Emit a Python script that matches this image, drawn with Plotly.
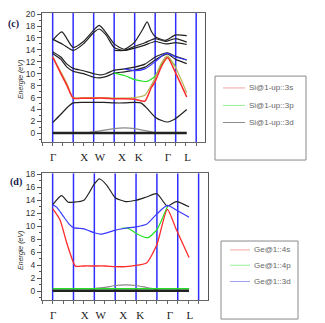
import plotly.graph_objects as go

# ---------------- data: Si (panel c) ----------------
si_top1_k = [0, 0.45, 1.0, 1.5, 2.0, 2.27, 2.6, 3.0, 3.5, 4.0, 4.4, 4.61, 4.8, 5.0, 5.5, 6.0, 6.54]
si_top1_e = [15.6, 17.0, 14.4, 15.4, 17.3, 18.1, 16.9, 15.0, 14.1, 15.3, 17.5, 18.7, 17.2, 16.2, 15.6, 16.5, 16.4]
si_top2_k = [0, 0.5, 1.0, 1.5, 2.0, 2.27, 2.6, 3.0, 3.5, 4.0, 4.5, 5.0, 5.5, 6.0, 6.54]
si_top2_e = [15.8, 14.9, 13.9, 15.0, 16.9, 17.5, 16.5, 14.4, 13.9, 14.6, 15.2, 15.9, 15.4, 15.9, 15.3]
si_top3_k = [3.0, 3.5, 4.0, 4.5, 5.0, 5.5, 6.0, 6.54]
si_top3_e = [13.9, 13.9, 14.3, 14.8, 15.4, 15.0, 15.2, 14.9]

si_mid_k = [0, 0.4, 0.7, 1.0, 1.5, 2.0, 2.3, 2.6, 3.0, 3.5, 4.0, 4.5, 5.0, 5.35, 5.6, 6.0, 6.54]
si_mid1_e = [13.7, 12.8, 11.6, 10.9, 10.5, 10.0, 9.8, 10.0, 10.6, 10.8, 11.1, 11.6, 12.8, 13.3, 13.5, 12.9, 12.3]
si_mid2_e = [13.4, 12.4, 11.1, 10.4, 10.0, 9.4, 9.3, 9.5, 10.1, 10.3, 10.6, 11.1, 12.3, 13.0, 13.3, 12.4, 11.7]

si_s_k = [0, 0.4, 0.7, 1.0, 1.5, 2.0, 2.5, 3.0, 3.5, 4.0, 4.5, 4.8, 5.0, 5.3, 5.6, 6.0, 6.54]
si_s_e = [12.8, 10.0, 8.0, 5.9, 5.9, 5.9, 5.9, 5.8, 5.8, 5.7, 5.4, 7.6, 8.7, 11.2, 12.7, 10.1, 6.1]
si_o_e = [12.9, 10.3, 8.3, 6.0, 6.0, 6.0, 6.0, 5.9, 5.9, 6.0, 6.4, 8.0, 9.3, 11.8, 13.0, 11.0, 6.8]

si_p_k = [3.0, 3.5, 4.0, 4.3, 4.6, 5.0, 5.3, 5.6, 6.0]
si_p_e = [10.1, 9.7, 9.0, 8.8, 8.7, 9.6, 11.5, 12.7, 11.2]
si_d_k = [3.5, 4.0, 4.5, 5.0, 5.45, 5.6, 6.0, 6.54]
si_d_e = [10.8, 10.5, 10.8, 12.0, 13.3, 13.4, 12.8, 12.3]

si_low_k = [0, 0.4, 0.7, 1.0, 1.5, 2.0, 2.5, 3.0, 3.5, 4.0, 4.3, 4.6, 5.0, 5.35, 5.6, 6.0, 6.54]
si_low_e = [1.8, 3.2, 4.3, 5.1, 5.2, 5.2, 5.2, 5.1, 5.1, 5.2, 5.1, 4.2, 2.7, 2.1, 1.9, 2.5, 4.0]
si_hump_k = [1.8, 2.3, 3.0, 3.5, 4.0, 4.6, 5.0]
si_hump_e = [0.15, 0.4, 0.8, 0.9, 0.8, 0.4, 0.1]
si_zero_k = [0, 6.54]
si_zero_e = [0.05, 0.05]

# ---------------- data: Ge (panel d) ----------------
ge_top_k = [0, 0.43, 0.75, 1.0, 1.5, 2.0, 2.24, 2.6, 3.0, 3.5, 4.0, 4.5, 5.0, 5.5, 5.93, 6.54]
ge_top_e = [13.3, 14.7, 13.7, 13.7, 14.0, 16.5, 17.3, 16.3, 14.4, 13.8, 14.0, 14.5, 15.0, 13.1, 13.8, 13.0]
ge_d_k = [0, 0.2, 0.5, 0.8, 1.0, 1.5, 2.0, 2.3, 2.6, 3.0, 3.5, 4.0, 4.5, 5.0, 5.5, 5.93, 6.54]
ge_d_e = [13.3, 12.9, 11.6, 10.3, 9.8, 9.6, 9.0, 8.8, 9.0, 9.4, 9.7, 9.9, 10.3, 11.9, 13.2, 12.5, 11.4]
ge_s_k = [0, 0.35, 0.67, 1.0, 1.1, 1.5, 2.0, 2.5, 3.0, 3.5, 4.0, 4.5, 5.0, 5.5, 5.93, 6.54]
ge_s_e = [12.7, 11.0, 7.5, 4.4, 3.85, 3.9, 3.9, 3.9, 3.8, 3.8, 4.0, 4.35, 7.2, 12.6, 9.5, 5.2]
ge_p_k = [3.3, 3.6, 4.1, 4.57, 5.0, 5.3, 5.5]
ge_p_e = [9.7, 9.7, 8.75, 8.25, 9.5, 11.5, 13.0]
ge_hump_k = [1.8, 2.5, 3.0, 3.5, 4.0, 4.5, 5.0]
ge_hump_e = [0.35, 0.6, 0.9, 1.0, 0.9, 0.6, 0.3]
ge_zero_k = [0, 6.54]
ge_zero_e = [0.1, 0.1]
ge_green0_e = [0.4, 0.4]

# ---------------- labels ----------------
sym_k = [0.02, 1.54, 2.3, 3.38, 4.2, 5.62, 6.58]
sym_labels = ["Γ", "X", "W", "X", "K", "Γ", "L"]
hs_lines = [0, 1, 2, 3, 4, 5, 6, 7]
legend_si = ["Si@1-up::3s", "Si@1-up::3p", "Si@1-up::3d"]
legend_ge = ["Ge@1::4s", "Ge@1::4p", "Ge@1::3d"]
legend_si_colors = ["#f4a4a4", "#98f098", "#8c8c8c"]
legend_ge_colors = ["#f4a4a4", "#98f098", "#a0a0f8"]

BLACK = "#222222"
RED = "#ff2a2a"
GREEN = "#22e022"
BLUE = "#3a3aff"
OLIVE = "#b8b055"
GRAY = "#8a8a8a"

W, H = 325, 323

fig = go.Figure()


def band(k, e, color, xa, ya, width=1.2):
    fig.add_trace(go.Scatter(x=k, y=e, mode="lines", xaxis=xa, yaxis=ya,
                             line=dict(color=color, width=width, shape="spline", smoothing=0.6),
                             showlegend=False, hoverinfo="skip"))


# Si panel
for k, e in [(si_top1_k, si_top1_e), (si_top2_k, si_top2_e), (si_top3_k, si_top3_e),
             (si_mid_k, si_mid1_e), (si_mid_k, si_mid2_e), (si_low_k, si_low_e)]:
    band(k, e, BLACK, "x", "y")
band(si_hump_k, si_hump_e, GRAY, "x", "y")
band(si_zero_k, si_zero_e, BLACK, "x", "y", 2.5)
band(si_p_k, si_p_e, GREEN, "x", "y")
band(si_d_k, si_d_e, BLUE, "x", "y")
band(si_s_k, si_o_e, OLIVE, "x", "y")
band(si_s_k, si_s_e, RED, "x", "y", 1.5)

# Ge panel
band(ge_top_k, ge_top_e, BLACK, "x2", "y2")
band(ge_hump_k, ge_hump_e, GRAY, "x2", "y2")
band(ge_zero_k, ge_green0_e, GREEN, "x2", "y2", 1.3)
band(ge_zero_k, ge_zero_e, BLACK, "x2", "y2", 2.5)
band(ge_p_k, ge_p_e, GREEN, "x2", "y2")
band(ge_d_k, ge_d_e, BLUE, "x2", "y2")
band(ge_s_k, ge_s_e, RED, "x2", "y2", 1.3)

shapes = []
for xr in ["x", "x2"]:
    yr = "y" if xr == "x" else "y2"
    for k in hs_lines:
        shapes.append(dict(type="line", xref=xr, yref=yr + " domain", x0=k, x1=k, y0=0, y1=1,
                           line=dict(color="#2e2eff", width=1.5), layer="below"))

legfont = dict(family="Liberation Sans, Arial, sans-serif", size=8, color="#666")
annotations = []


def legend_box(box, line_x, text_x, rows, names, colors):
    # box: (left, top, right, bottom) in pixels from top-left
    l, t, r, b = box
    shapes.append(dict(type="rect", xref="paper", yref="paper", x0=l / W, x1=r / W,
                       y0=1 - b / H, y1=1 - t / H, line=dict(color="#8a8a8a", width=1)))
    for py, name, col in zip(rows, names, colors):
        shapes.append(dict(type="line", xref="paper", yref="paper", x0=line_x[0] / W, x1=line_x[1] / W,
                           y0=1 - py / H, y1=1 - py / H, line=dict(color=col, width=1)))
        annotations.append(dict(text=name, xref="paper", yref="paper", x=text_x / W, y=1 - py / H,
                                xanchor="left", yanchor="middle", showarrow=False, font=legfont))


legend_box((215, 73, 306, 158), (223, 245), 247, [85, 102.7, 120], legend_si, legend_si_colors)
legend_box((221, 240, 298, 319), (230, 250), 252, [249, 264.5, 281], legend_ge, legend_ge_colors)

tickfont = dict(family="Liberation Sans Narrow, Liberation Sans, Arial, sans-serif", size=8.5, color="#333")
xfont = dict(family="Liberation Serif, DejaVu Serif, serif", size=11, color="#222")
titlefont = dict(family="Liberation Sans, Arial, sans-serif", size=7, color="#333", style="italic")


def xax(domain, rng, anchor):
    return dict(domain=domain, range=rng, anchor=anchor, showgrid=False, zeroline=False,
                showline=True, mirror=True, linecolor="#666", linewidth=1,
                tickmode="array", tickvals=sym_k, ticktext=sym_labels, ticks="",
                ticklabelstandoff=5, tickfont=xfont,
                minor=dict(ticks="outside", ticklen=3, tickcolor="#666",
                           tickmode="linear", tick0=0, dtick=0.5, showgrid=False))


def yax(domain, rng, anchor):
    return dict(domain=domain, range=rng, anchor=anchor, showgrid=False, zeroline=False,
                showline=True, mirror=True, linecolor="#555", linewidth=1,
                tick0=0, dtick=2, ticks="outside", ticklen=4, tickcolor="#555",
                tickfont=tickfont,
                minor=dict(ticks="outside", ticklen=2, tickcolor="#555", dtick=1, tick0=0, showgrid=False))


annotations += [
    dict(text="<b>(c)</b>", xref="paper", yref="paper", x=13 / W, y=1 - 20 / H, showarrow=False,
         xanchor="center", yanchor="middle",
         font=dict(family="Liberation Serif, serif", size=10, color="#1a1a4a")),
    dict(text="<b>(d)</b>", xref="paper", yref="paper", x=16 / W, y=1 - 180 / H, showarrow=False,
         xanchor="center", yanchor="middle",
         font=dict(family="Liberation Serif, serif", size=10, color="#1a1a4a")),
    dict(text="Energie (eV)", xref="paper", yref="paper", x=21 / W, y=1 - 77 / H, textangle=-90,
         showarrow=False, xanchor="center", yanchor="middle", font=titlefont),
    dict(text="Energie (eV)", xref="paper", yref="paper", x=21 / W, y=1 - 250 / H, textangle=-90,
         showarrow=False, xanchor="center", yanchor="middle", font=titlefont),
]

fig.update_layout(
    width=W, height=H, margin=dict(l=0, r=0, t=0, b=0),
    paper_bgcolor="white", plot_bgcolor="white", showlegend=False,
    xaxis=xax([42 / W, 205 / W], [-0.52, 7.43], "y"),
    yaxis=yax([1 - 140 / H, 1 - 9 / H], [-1.5, 20.2], "x"),
    xaxis2=xax([42 / W, 208 / W], [-0.51, 7.45], "y2"),
    yaxis2=yax([1 - 300 / H, 1 - 171.5 / H], [-1.37, 18.13], "x2"),
    shapes=shapes,
    annotations=annotations,
)

fig.write_html("out.html", config={"displayModeBar": False},
               post_script="document.body.style.margin='0px';")
